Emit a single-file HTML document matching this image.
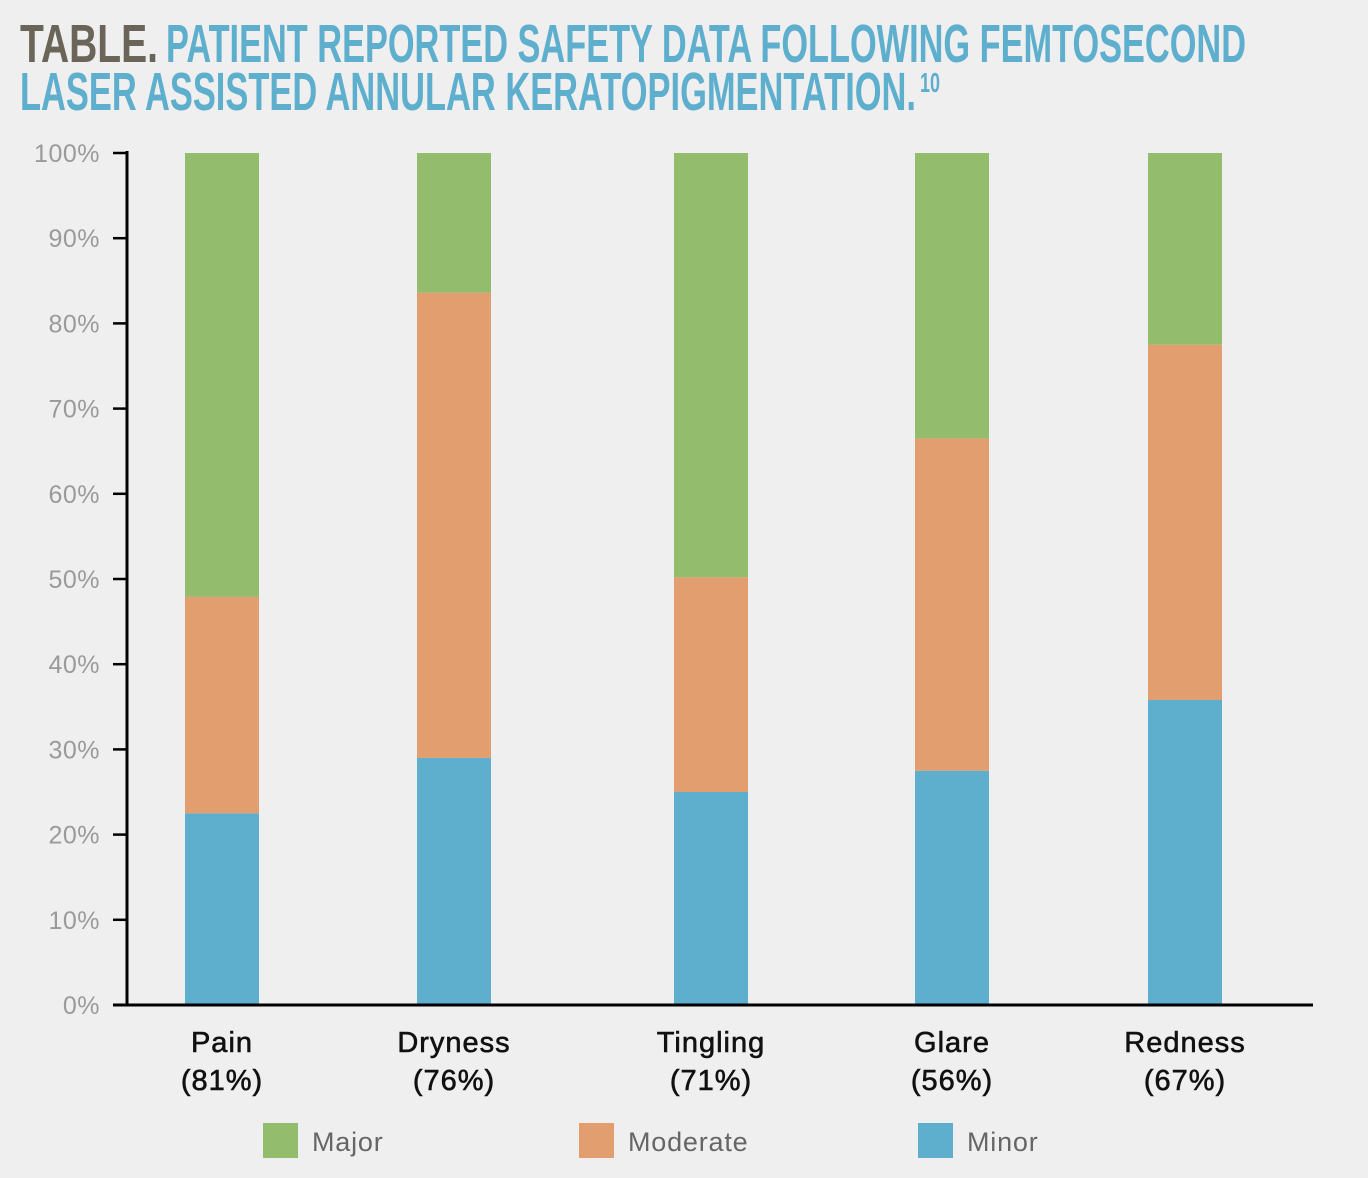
<!DOCTYPE html>
<html><head><meta charset="utf-8"><style>
html,body{margin:0;padding:0;background:#eeefee;}
svg{display:block;font-family:"Liberation Sans",sans-serif;}
</style></head><body>
<svg id="chart" width="1368" height="1178" viewBox="0 0 1368 1178" xmlns="http://www.w3.org/2000/svg">
<rect width="1368" height="1178" fill="#eeefee"/>
<g font-weight="bold" font-size="54">
<text x="20" y="62" fill="#6b6559" textLength="138" lengthAdjust="spacingAndGlyphs">TABLE.</text>
<text x="166" y="62" fill="#5eaecd" textLength="1080" lengthAdjust="spacingAndGlyphs">PATIENT REPORTED SAFETY DATA FOLLOWING FEMTOSECOND</text>
<text x="20" y="110" fill="#5eaecd" textLength="896" lengthAdjust="spacingAndGlyphs">LASER ASSISTED ANNULAR KERATOPIGMENTATION.</text>
<text x="920" y="92" fill="#5eaecd" font-size="28" textLength="20" lengthAdjust="spacingAndGlyphs">10</text>
</g>
<g id="plot"></g>
</svg>
<script>
const categories=["Pain","Dryness","Tingling","Glare","Redness"];
const catPct=["(81%)","(76%)","(71%)","(56%)","(67%)"];
const minor=[22.5,29.0,25.0,27.5,35.8];
const moderate=[25.4,54.6,25.2,39.0,41.7];
const major=[52.1,16.4,49.8,33.5,22.5];
const yTicks=[0,10,20,30,40,50,60,70,80,90,100];
const centers=[222,454,711,952,1185];
const NS="http://www.w3.org/2000/svg";
const g=document.getElementById('plot');
const y0=1005,y1=153;
function yS(v){return y0-(y0-y1)*v/100;}
function mk(t,a,p){const e=document.createElementNS(NS,t);for(const k in a)e.setAttribute(k,a[k]);(p||g).appendChild(e);return e;}
yTicks.forEach(v=>{
 const t=mk('text',{x:100,y:yS(v)+9,'text-anchor':'end','font-size':25,fill:'#9a9a9a','letter-spacing':0.5});
 t.textContent=v+'%';
 
 
 const l=mk('line',{x1:113,x2:128,y1:yS(v),y2:yS(v),stroke:'#000','stroke-width':2.5});
 
 
});
const bw=74;
const series=[[minor,'#5eaecd','minor'],[moderate,'#e29e6f','moderate'],[major,'#93bd6c','major']];
categories.forEach((c,i)=>{
 let base=0;
 series.forEach(([arr,col,nm])=>{
  const top=base+arr[i];
  const r=mk('rect',{x:centers[i]-bw/2,y:yS(top),width:bw,height:yS(base)-yS(top),fill:col});
  
  
  base=top;
 });
 const t=mk('text',{x:centers[i],y:1052,'text-anchor':'middle','font-size':29,fill:'#111','stroke':'#111','stroke-width':0.6,'letter-spacing':1});
 t.textContent=c;
 
 
 const t2=mk('text',{x:centers[i],y:1090,'text-anchor':'middle','font-size':29,fill:'#111','stroke':'#111','stroke-width':0.6,'letter-spacing':1});
 t2.textContent=catPct[i];
 
 
});
const ax=mk('line',{x1:127,x2:127,y1:151,y2:1006,stroke:'#000','stroke-width':3});


const xx=mk('line',{x1:113,x2:1313,y1:1005,y2:1005,stroke:'#000','stroke-width':3});


const legend=[["Major","#93bd6c",263,312],["Moderate","#e29e6f",579,628],["Minor","#5eaecd",918,967]];
legend.forEach(([n,col,sx,tx])=>{
 const r=mk('rect',{x:sx,y:1123,width:35,height:35,fill:col});
 
 
 const t=mk('text',{x:tx,y:1151,'font-size':27,fill:'#666','letter-spacing':0.8});
 t.textContent=n;
 
 
});
</script>
</body></html>
